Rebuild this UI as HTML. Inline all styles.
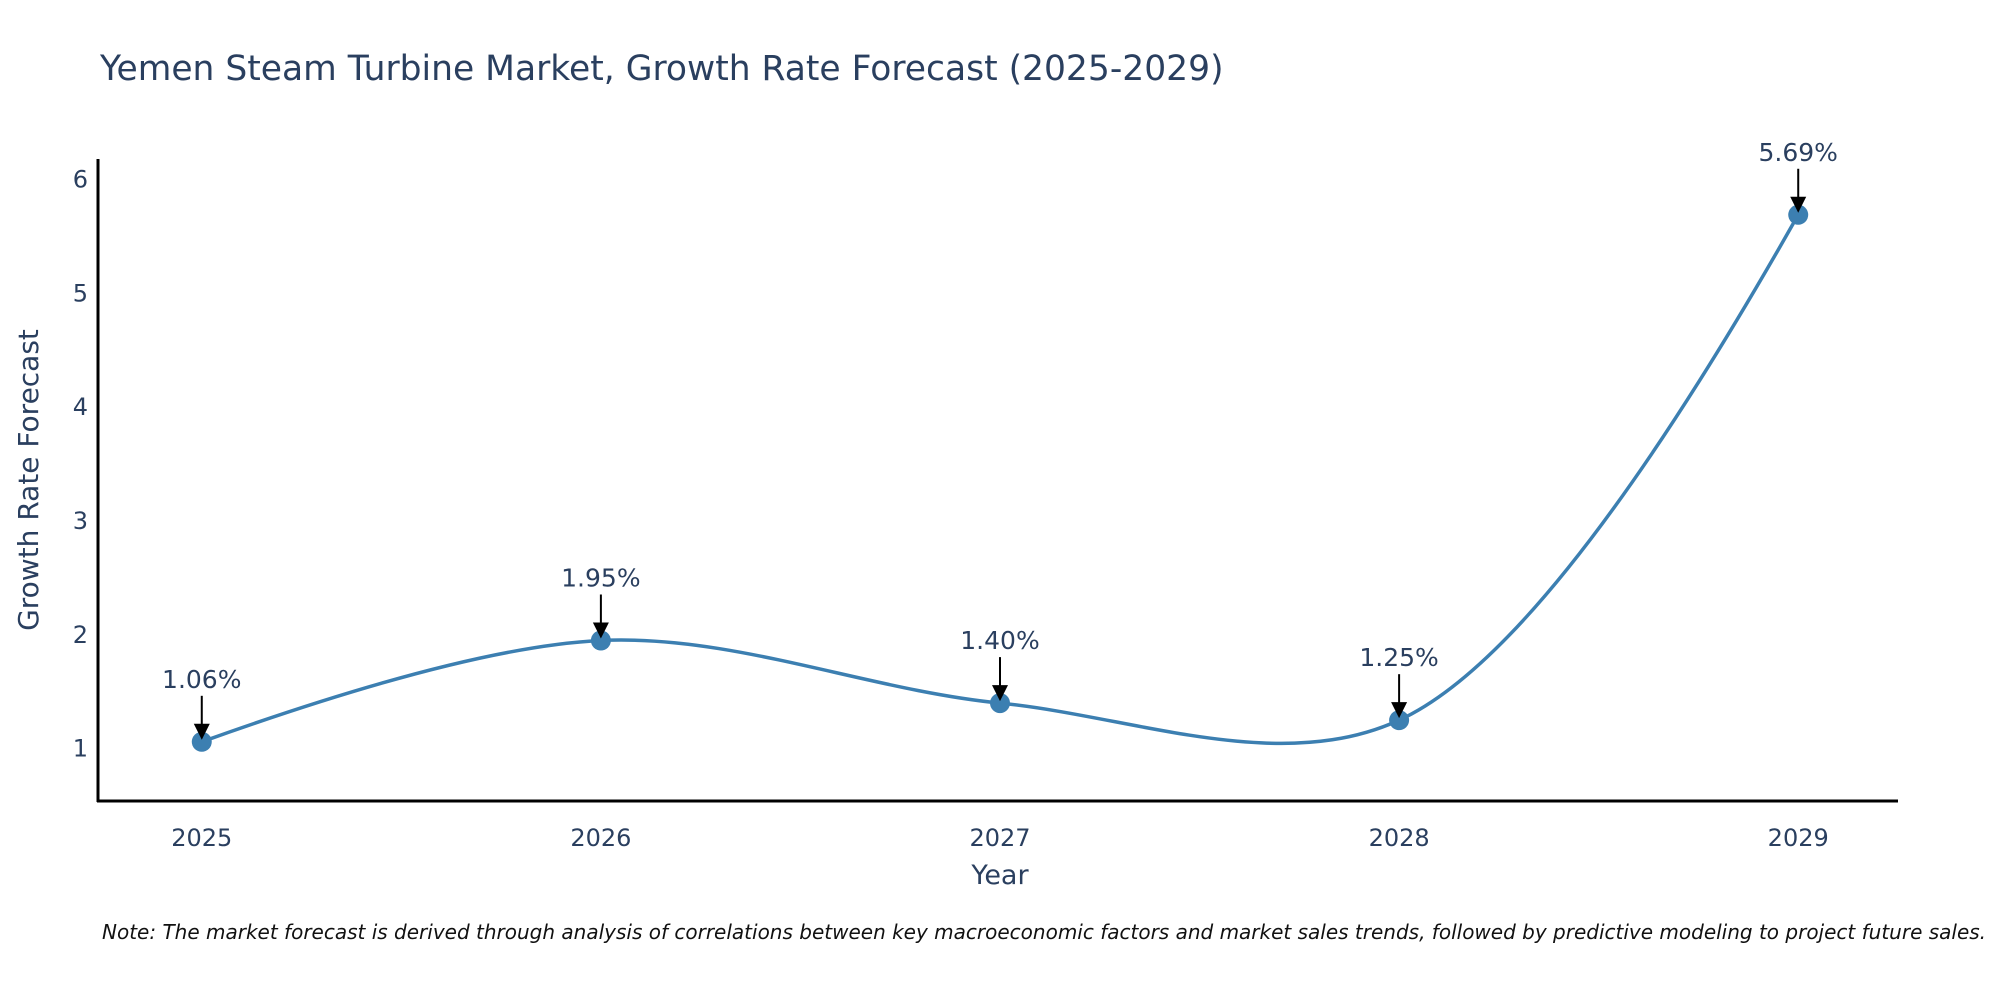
<!DOCTYPE html>
<html><head><meta charset="utf-8"><style>
body{margin:0;background:#fff;}
svg{display:block;font-family:"DejaVu Sans","Liberation Sans",sans-serif;}
</style></head><body>
<svg id="chart" width="2000" height="1000">
<text x="100" y="80" font-size="34.5" fill="#2a3f5f">Yemen Steam Turbine Market, Growth Rate Forecast (2025-2029)</text>
<g id="plot"></g>
<text transform="translate(38,480) rotate(-90)" text-anchor="middle" font-size="28" fill="#2a3f5f">Growth Rate Forecast</text>
<text x="1000" y="884" text-anchor="middle" font-size="27" fill="#2a3f5f">Year</text>
<text x="102" y="939" font-size="20" font-style="italic" fill="#111">Note: The market forecast is derived through analysis of correlations between key macroeconomic factors and market sales trends, followed by predictive modeling to project future sales.</text>
</svg>
<script>
const years = [2025, 2026, 2027, 2028, 2029];
const values = [1.06, 1.95, 1.40, 1.25, 5.69];
const labels = ["1.06%", "1.95%", "1.40%", "1.25%", "5.69%"];
const yTicks = [1, 2, 3, 4, 5, 6];

const L=98, R=1898, T=159, B=801;
const xMin=2024.74, xMax=2029.25, yMin=0.54, yMax=6.18;
const xs = v => L + (v-xMin)/(xMax-xMin)*(R-L);
const ys = v => B - (v-yMin)/(yMax-yMin)*(B-T);
const NS="http://www.w3.org/2000/svg";
const g=document.getElementById('plot');
function mk(tag, attrs){const e=document.createElementNS(NS,tag);for(const k in attrs)e.setAttribute(k,attrs[k]);g.appendChild(e);return e;}

let e=mk('line',{x1:L,y1:T,x2:L,y2:B+1,stroke:'#000','stroke-width':3});


e=mk('line',{x1:L-1,y1:B,x2:R,y2:B,stroke:'#000','stroke-width':3});



yTicks.forEach(t=>{
  const el=mk('text',{x:L-10,y:ys(t)+8,'text-anchor':'end','font-size':24,fill:'#2a3f5f'});
  el.textContent=t;
  
  
});
years.forEach(yr=>{
  const el=mk('text',{x:xs(yr),y:B+45,'text-anchor':'middle','font-size':24,fill:'#2a3f5f'});
  el.textContent=yr;
  
  
});

// plotly-style spline
const pts=years.map((yr,i)=>[xs(yr),ys(values[i])]);
function tangent(a,b,c){
  const d1x=a[0]-b[0],d1y=a[1]-b[1],d2x=c[0]-b[0],d2y=c[1]-b[1];
  const d1a=Math.pow(d1x*d1x+d1y*d1y,0.25),d2a=Math.pow(d2x*d2x+d2y*d2y,0.25);
  const nx=(d2a*d2a*d1x-d1a*d1a*d2x),ny=(d2a*d2a*d1y-d1a*d1a*d2y);
  const den1=3*d2a*(d1a+d2a),den2=3*d1a*(d1a+d2a);
  return [[b[0]+nx/den1,b[1]+ny/den1],[b[0]-nx/den2,b[1]-ny/den2]];
}
const tg=[];
for(let i=1;i<pts.length-1;i++) tg.push(tangent(pts[i-1],pts[i],pts[i+1]));
let d=`M${pts[0]} Q${tg[0][0]} ${pts[1]}`;
for(let i=1;i<pts.length-2;i++) d+=` C${tg[i-1][1]} ${tg[i][0]} ${pts[i+1]}`;
d+=` Q${tg[tg.length-1][1]} ${pts[pts.length-1]}`;
e=mk('path',{d:d,fill:'none',stroke:'#3c7fb1','stroke-width':3.5});



pts.forEach((p,i)=>{
  const c=mk('circle',{cx:p[0],cy:p[1],r:10,fill:'#3c7fb1'});
  
  
  const a=mk('line',{x1:p[0],y1:p[1]-46,x2:p[0],y2:p[1]-16,stroke:'#000','stroke-width':2});
  
  
  const h=mk('polygon',{points:`${p[0]-8},${p[1]-18} ${p[0]+8},${p[1]-18} ${p[0]},${p[1]-2}`,fill:'#000'});
  
  
  const t=mk('text',{x:p[0],y:p[1]-54,'text-anchor':'middle','font-size':25,fill:'#2a3f5f'});
  t.textContent=labels[i];
  
  
});
</script>
</body></html>
